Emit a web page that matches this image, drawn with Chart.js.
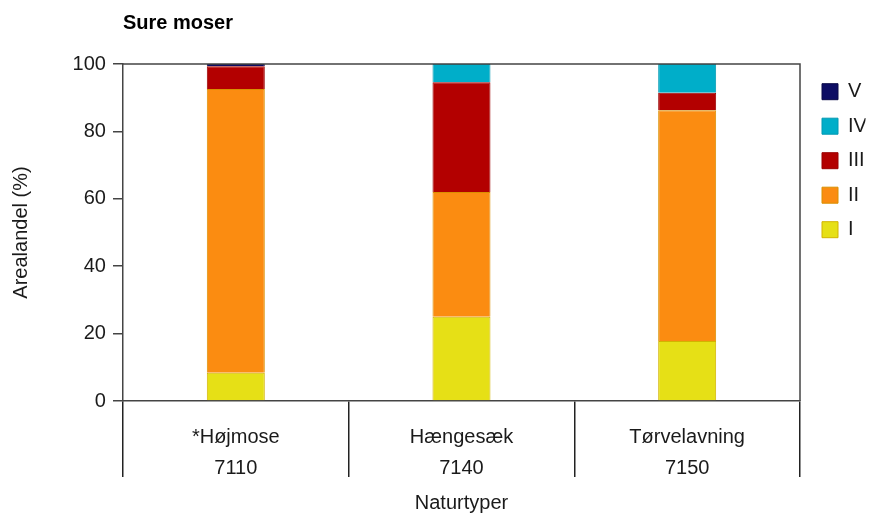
<!DOCTYPE html>
<html lang="da">
<head>
  <meta charset="utf-8">
  <title>Sure moser</title>
  <script src="https://cdn.jsdelivr.net/npm/chart.js@4/dist/chart.umd.min.js"></script>
  <style>
    body { margin:0; background:#fff; }
    #wrap { width:872px; height:517px; }
  </style>
</head>
<body>
  <div id="wrap"><canvas id="chart" width="872" height="517"></canvas></div>
  <script>
    // data (percent of area)
    const categories = [['*Højmose','7110'], ['Hængesæk','7140'], ['Tørvelavning','7150']];
    const seriesNames = ['I','II','III','IV','V'];
    const valsI   = [8.4, 25.0, 17.8];
    const valsII  = [84.2, 37.0, 68.5];
    const valsIII = [6.7, 32.6, 5.2];
    const valsIV  = [0, 5.4, 8.5];
    const valsV   = [0.7, 0, 0];
    const yTicks  = [0, 20, 40, 60, 80, 100];

    const fills   = ['#e6e016', '#fb8c11', '#b30000', '#00aec9', '#0d0d64'];
    const borders = ['#d2b400', '#d99000', '#9a0000', '#0099b3', '#0a0a48'];
    const font = "'Liberation Sans', Arial, Helvetica, sans-serif";
    const ink = '#1a1a1a', axisCol = '#444';

    const datasets = [valsI, valsII, valsIII, valsIV, valsV].map((d, i) => ({
      label: seriesNames[i], data: d,
      backgroundColor: fills[i], borderColor: borders[i], borderWidth: 1,
      categoryPercentage: 1, barPercentage: 0.257
    }));

    // top + right frame of the plot box
    const frame = {
      id: 'frame',
      afterDatasetsDraw(c) {
        const {ctx, chartArea: a} = c;
        ctx.save();
        ctx.strokeStyle = axisCol; ctx.lineWidth = 1.5;
        ctx.beginPath();
        ctx.moveTo(a.left, a.top); ctx.lineTo(a.right, a.top); ctx.lineTo(a.right, a.bottom);
        ctx.stroke();
        ctx.restore();
      }
    };

    Chart.defaults.font.family = font;
    Chart.defaults.font.size = 20;
    Chart.defaults.color = ink;

    new Chart(document.getElementById('chart'), {
      type: 'bar',
      data: { labels: categories, datasets },
      plugins: [frame],
      options: {
        responsive: false, animation: false,
        layout: { padding: { top: 0, right: 6.5, bottom: 0, left: 0 } },
        plugins: {
          title: { display: true, text: 'Sure moser', align: 'start', fullSize: false,
                   font: { size: 20, weight: 'bold' }, padding: { top: 11.5, bottom: 28.5 }, color: '#000' },
          legend: { position: 'right', align: 'start', fullSize: false, reverse: true, maxWidth: 58,
                    title: { display: true, text: '', font: { size: 1 }, padding: { top: 2, bottom: 0 } },
                    labels: { boxWidth: 16, boxHeight: 16, padding: 14.5, font: { size: 20 } } },
          tooltip: { enabled: false }
        },
        scales: {
          x: {
            stacked: true,
            grid: { offset: true, drawOnChartArea: false, tickLength: 76, color: '#222', lineWidth: 1.5 },
            border: { color: axisCol, width: 1.5 },
            ticks: { padding: -55.5, font: { size: 20, lineHeight: 1.55 }, maxRotation: 0 },
            title: { display: true, text: 'Naturtyper', padding: { top: 63, bottom: 2 } }
          },
          y: {
            stacked: true, min: 0, max: 100,
            afterBuildTicks: s => { s.ticks = yTicks.map(v => ({ value: v })); },
            grid: { drawOnChartArea: false, tickLength: 10, color: axisCol, lineWidth: 1.5 },
            border: { color: axisCol, width: 1.5 },
            ticks: { padding: 7 },
            title: { display: true, text: 'Arealandel (%)', padding: { top: 9, bottom: 32.6 } }
          },
          gap: {
            type: 'linear', position: 'right', display: true,
            grid: { display: false }, ticks: { display: false }, border: { display: false },
            afterFit: s => { s.width = 7.5; }
          }
        }
      }
    });
  </script>
</body>
</html>
